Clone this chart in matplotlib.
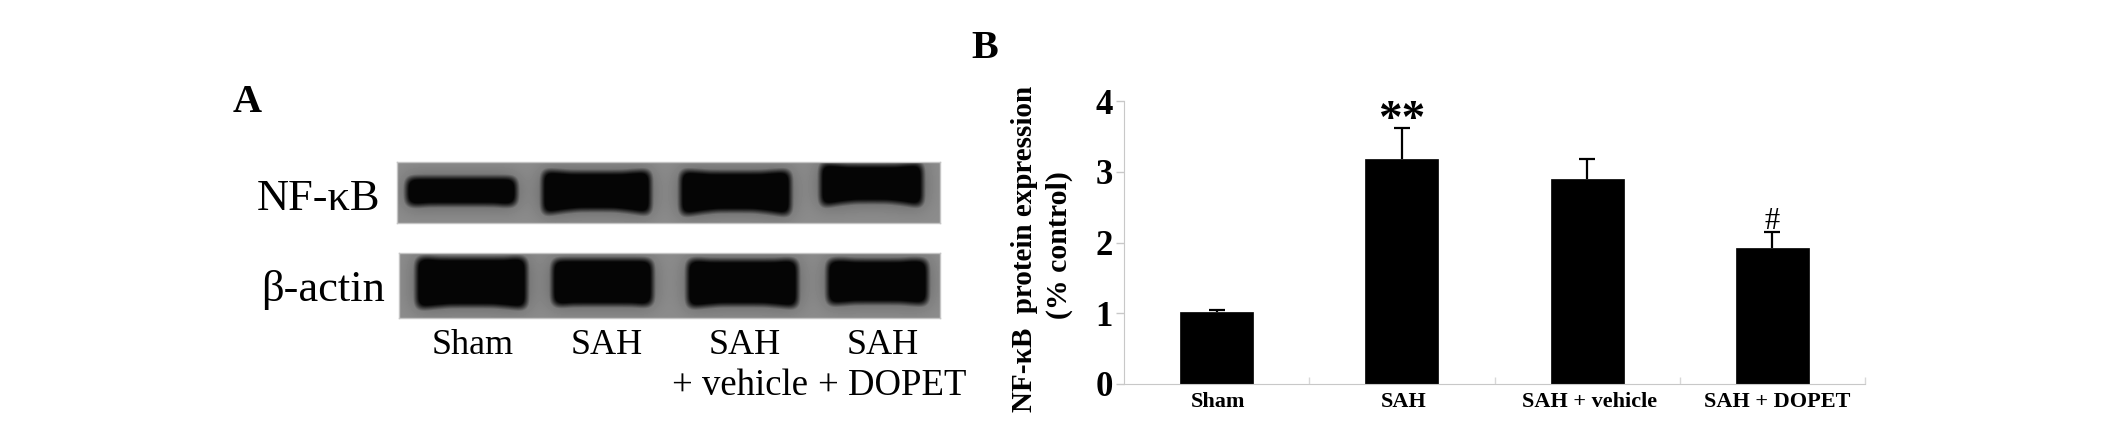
import numpy as np
import matplotlib
matplotlib.use("Agg")
import matplotlib.pyplot as plt

W, H = 2126, 424
categories = ["Sham", "SAH", "SAH + vehicle", "SAH + DOPET"]
means = [1.02, 3.18, 2.90, 1.92]
errs = [0.02, 0.44, 0.28, 0.23]
yticks = [0, 1, 2, 3, 4]
blot_rows = ["NF-κB", "β-actin"]
blot_lanes = ["Sham", "SAH", "SAH\n+ vehicle", "SAH\n+ DOPET"]

plt.rcParams["font.family"] = ["Liberation Serif", "DejaVu Serif"]
fig = plt.figure(figsize=(W / 100, H / 100), dpi=100, facecolor="white")


def axpx(x0, y0, x1, y1):
    return fig.add_axes([x0 / W, 1 - y1 / H, (x1 - x0) / W, (y1 - y0) / H])


def tx(x, y, s, **kw):
    kw.setdefault("ha", "center")
    kw.setdefault("va", "center")
    kw.setdefault("color", "black")
    return fig.text(x / W, 1 - y / H, s, **kw)


def blur(a, sigma):
    r = int(3 * sigma) + 1
    k = np.exp(-0.5 * (np.arange(-r, r + 1) / sigma) ** 2)
    k /= k.sum()
    p = np.pad(a, r, mode="edge")
    p = np.apply_along_axis(lambda v: np.convolve(v, k, mode="same"), 0, p)
    p = np.apply_along_axis(lambda v: np.convolve(v, k, mode="same"), 1, p)
    return p[r:-r, r:-r]


def blot(box, bands, base=0.55):
    x0, y0, x1, y1 = box
    w, h = x1 - x0, y1 - y0
    X, Y = np.meshgrid(np.arange(w) + x0, np.arange(h) + y0)
    mask = np.zeros(X.shape)
    for l, r, t, b, waist in bands:
        u = (X - (l + r) / 2) / ((r - l) / 2)
        pinch = waist * (1 - np.clip(np.abs(u), 0, 1) ** 2)
        mask[(np.abs(u) <= 1) & (Y >= t + 0.5 * pinch) & (Y <= b - pinch)] = 1
    core = np.clip(blur(mask, 5) * 2.2 - 0.6, 0, 1)
    halo = blur(mask, 10)
    img = base - 0.2 * halo
    img = img * (1 - core) + 0.02 * core
    ax = axpx(x0, y0, x1, y1)
    ax.imshow(img, cmap="gray", vmin=0, vmax=1, aspect="auto", interpolation="bilinear")
    ax.set_xticks([])
    ax.set_yticks([])
    for s in ax.spines.values():
        s.set_color("#c4c4c4")
        s.set_linewidth(1.0)


blot((397, 162, 940, 223), [
    (406, 516, 176, 206, 2),
    (542, 650, 169, 215, 6),
    (680, 790, 169, 216, 6),
    (820, 922, 162, 207, 6),
])
blot((399, 253, 940, 318), [
    (416, 526, 256, 309, 4),
    (552, 652, 258, 306, 2),
    (687, 797, 258, 308, 4),
    (827, 927, 258, 305, 3),
])

tx(247, 103, "A", fontsize=29, fontweight="bold")
tx(318, 199, blot_rows[0], fontsize=32)
tx(323, 290, blot_rows[1], fontsize=32)
for xc, lab in zip([473, 607, 745, 883], blot_lanes):
    first, *rest = lab.split("\n")
    tx(xc, 346, first, fontsize=26)
    if rest:
        tx(xc - 5 if xc < 800 else xc + 9, 386, rest[0], fontsize=26.5)

ax = axpx(1124, 101, 1865, 384)
x = np.arange(len(categories))
tops = np.array(means) + np.array(errs)
ax.bar(x, means, width=0.395, color="black", edgecolor="black", linewidth=0.5)
ax.vlines(x, means, tops, color="black", linewidth=1.6)
ax.plot(x, tops, linestyle="none", marker="_", markersize=11, markeredgewidth=1.6, color="black")
ax.set_xlim(-0.5, 3.5)
ax.set_ylim(0, 4)
ax.set_yticks(yticks)
ax.set_xticks(np.arange(0.5, 4.5), [""] * 4)
ax.tick_params(axis="y", length=6, width=1, color="#c8c8c8", direction="out", pad=2, labelsize=25)
ax.tick_params(axis="x", length=5, width=1, color="#d8d8d8", direction="in", labelbottom=False)
for lab in ax.get_yticklabels():
    lab.set_fontweight("bold")
ax.spines["top"].set_visible(False)
ax.spines["right"].set_visible(False)
ax.spines["left"].set_color("#c8c8c8")
ax.spines["bottom"].set_color("#c8c8c8")
ax.patch.set_alpha(0)

for xc, lab in zip([1218, 1404, 1590, 1777], categories):
    tx(xc, 402, lab, fontsize=16, fontweight="bold")
ax.text(1, 3.72, "**", ha="center", va="center", fontsize=34, fontweight="bold")
ax.text(3, 2.3, "#", ha="center", va="center", fontsize=22)

tx(985, 48, "B", fontsize=29, fontweight="bold")
tx(1024, 249, "NF-κB  protein expression", rotation=90, fontsize=21, fontweight="bold")
tx(1059, 245, "(% control)", rotation=90, fontsize=21.5, fontweight="bold")

fig.savefig("out.png", dpi=100)
